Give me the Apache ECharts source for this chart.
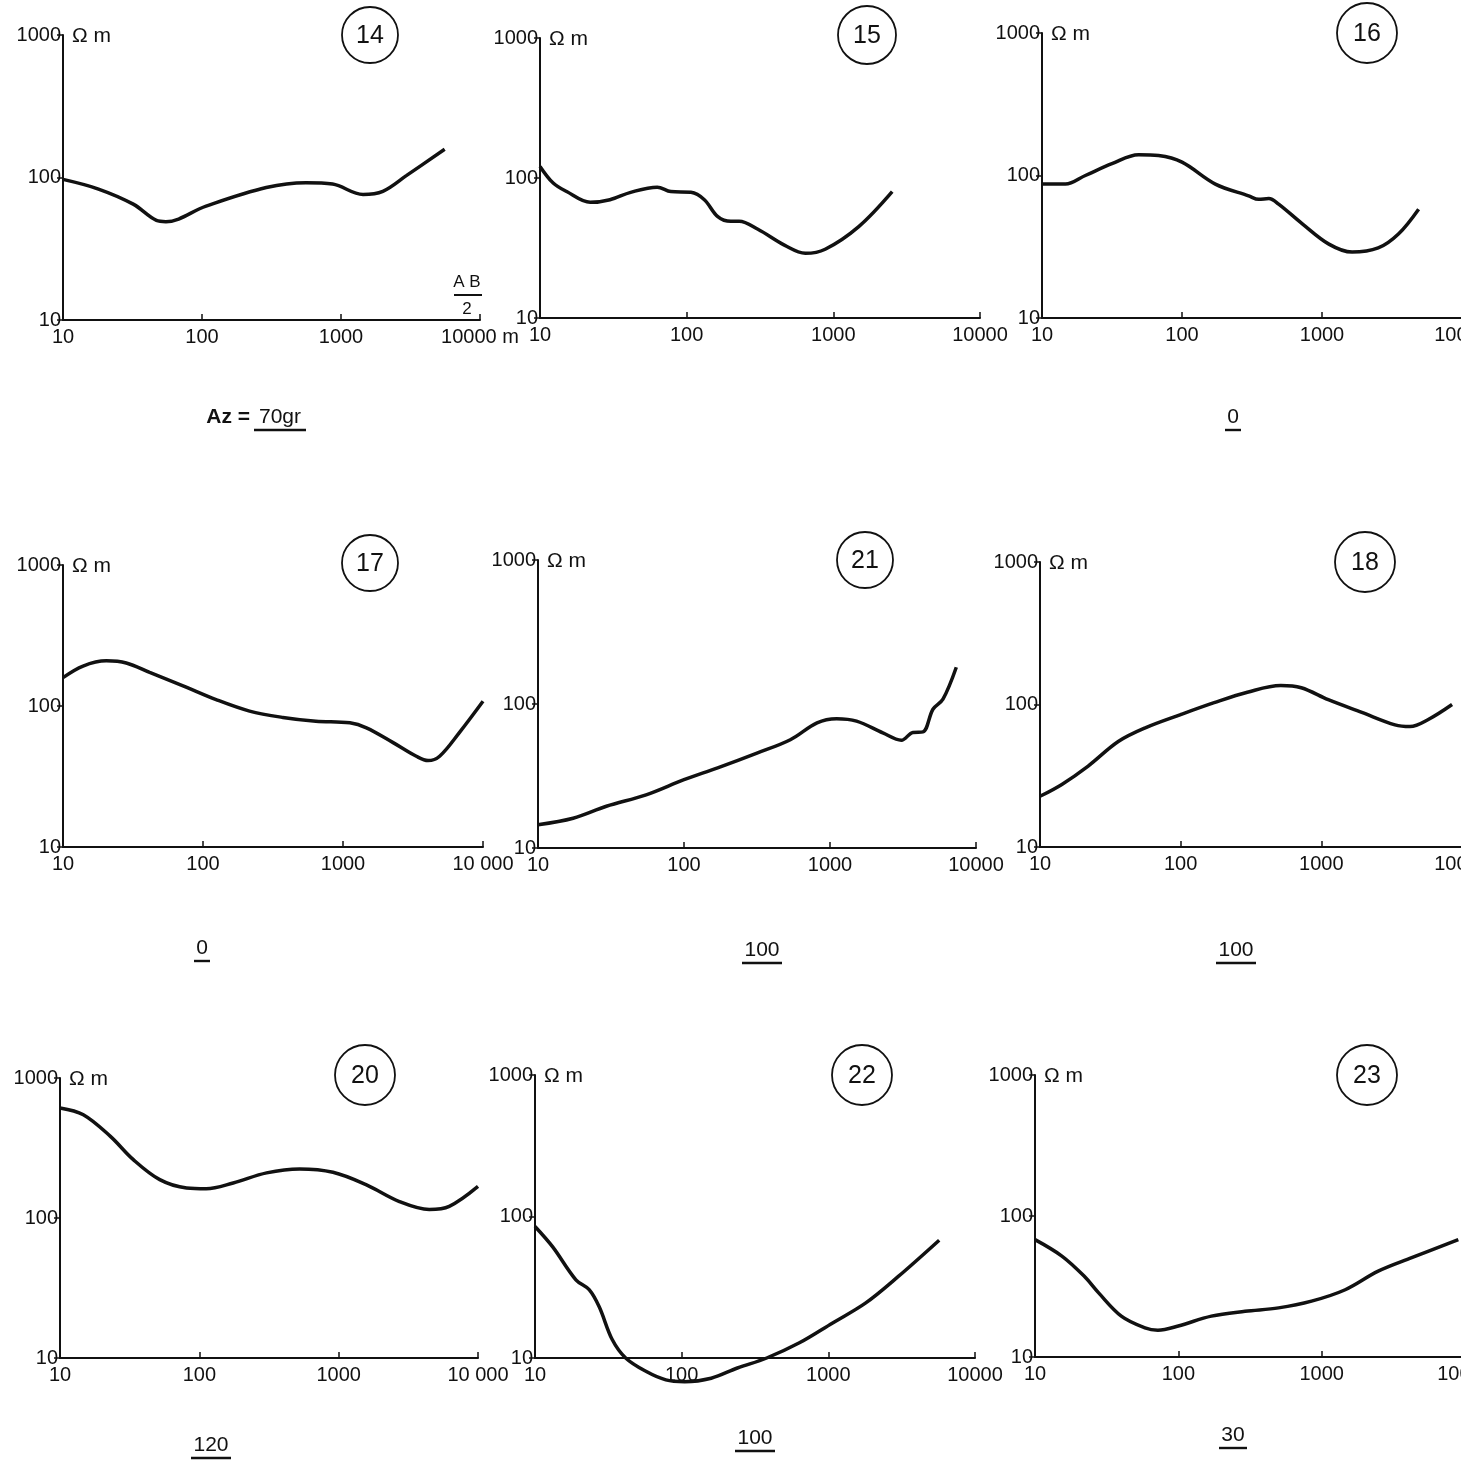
<!DOCTYPE html>
<html>
<head>
<meta charset="utf-8">
<script src="https://cdn.jsdelivr.net/npm/echarts@6/dist/echarts.min.js"></script>
<style>
html, body { margin: 0; background: #fff; }
#chart { width: 1461px; height: 1462px; }
</style>
</head>
<body>
<div id="chart"></div>
<script>
// sounding curves: AB/2 (m) vs apparent resistivity (ohm m)
var panelIds = ['14', '15', '16', '17', '21', '18', '20', '22', '23'];

var ab14 = [10, 18, 32, 47, 55, 107, 290, 560, 870, 1440, 2000, 2950, 5570];
var rho14 = [97, 83, 65, 50, 49, 63, 85, 92, 90, 76, 80, 103, 158];

var ab15 = [10, 12.3, 15.2, 22, 30, 41.5, 63, 78, 107, 132, 163, 200, 228, 306, 467, 645, 880, 1490, 2520];
var rho15 = [121, 92, 80, 67, 70, 79, 86, 80, 79, 70, 53, 49, 49, 43, 33, 29, 31, 45, 80];

var ab16 = [10, 14.7, 20.4, 31.6, 49, 68, 100, 173, 299, 353, 417, 490, 720, 1120, 1640, 2520, 3530, 4900];
var rho16 = [87, 87, 100, 121, 140, 138, 124, 87, 72, 68, 69, 63, 46, 33, 29, 31, 39, 58];

var ab17 = [10, 13.9, 20.4, 28.3, 41.6, 72, 124, 215, 372, 640, 1120, 1470, 2280, 3340, 4050, 4900, 6800, 10000];
var rho17 = [159, 192, 209, 202, 173, 139, 111, 92, 83, 78, 76, 70, 55, 44, 41, 44, 65, 108];

var ab21 = [10, 17.4, 29.4, 55, 100, 170, 316, 535, 815, 1110, 1520, 2300, 3080, 3700, 4330, 5070, 5940, 7330];
var rho21 = [14.5, 16.1, 19.5, 23.4, 29.8, 36, 45.6, 56.5, 74, 79, 76, 63, 56, 63.5, 64, 92, 108, 180];

var ab18 = [10, 14.3, 22, 36, 56, 100, 173, 298, 515, 720, 1120, 1940, 3340, 4270, 5760, 8500];
var rho18 = [22.7, 27.5, 37, 55, 68.6, 85, 103, 122, 136, 131, 108, 88, 72, 70, 78.5, 100];

var ab20 = [10, 14.7, 23, 33.6, 52, 81, 112, 175, 304, 525, 910, 1570, 2730, 4470, 6220, 10000];
var rho20 = [611, 547, 383, 261, 188, 164, 162, 178, 210, 224, 212, 173, 131, 115, 121, 168];

var ab22 = [10, 13.2, 19, 23.4, 27.4, 33.6, 41.5, 57, 78, 105, 159, 240, 380, 635, 1070, 1790, 3000, 5700];
var rho22 = [85, 61, 35.7, 30.4, 23, 13.5, 10, 8.05, 7.0, 6.8, 7.2, 8.5, 10, 12.8, 17.7, 24.4, 37.7, 68];

var ab23 = [10, 15.4, 22, 27.7, 40, 58.5, 72, 100, 170, 292, 500, 850, 1460, 2480, 4250, 8980];
var rho23 = [68, 52, 37.5, 28.6, 19.5, 16.1, 15.5, 16.6, 19.5, 21.1, 22.3, 24.9, 30, 40.6, 50.6, 68];

var abList = [ab14, ab15, ab16, ab17, ab21, ab18, ab20, ab22, ab23];
var rhoList = [rho14, rho15, rho16, rho17, rho21, rho18, rho20, rho22, rho23];

// last x tick label as written on each sheet
var lastXLabel = ['10000 m', '10000', '10000', '10 000', '10000', '10000', '10 000', '10000', '10000'];
// azimuth notes under each panel ('' = none)
var azNotes = ['70gr', '', '0', '0', '100', '100', '120', '100', '30'];

// layout: grid [left, top, width, height], circle [cx, cy, r], note [x, y]
var layout = [
    {g: [63, 35, 417, 285],   c: [370, 35, 28],    n: [280, 417]},
    {g: [540, 38, 440, 280],  c: [867, 35, 29],    n: null},
    {g: [1042, 33, 420, 285], c: [1367, 33, 30],   n: [1233, 417]},
    {g: [63, 565, 420, 282],  c: [370, 563, 28],   n: [202, 948]},
    {g: [538, 560, 438, 288], c: [865, 560, 28],   n: [762, 950]},
    {g: [1040, 562, 422, 285], c: [1365, 562, 30], n: [1236, 950]},
    {g: [60, 1078, 418, 280], c: [365, 1075, 30],  n: [211, 1445]},
    {g: [535, 1075, 440, 283], c: [862, 1075, 30], n: [755, 1438]},
    {g: [1035, 1075, 430, 282], c: [1367, 1075, 30], n: [1233, 1435]}
];

var FONT = 'Liberation Sans, Arial, sans-serif';
var INK = '#111';

var grids = [], xAxes = [], yAxes = [], series = [], graphics = [];

function txt(x, y, s, size, align, weight) {
    return {
        type: 'text', x: x, y: y, silent: true,
        style: {
            text: s, fill: INK, font: (weight || 'normal') + ' ' + size + 'px ' + FONT,
            align: align || 'center', textAlign: align || 'center',
            verticalAlign: 'middle', textVerticalAlign: 'middle'
        }
    };
}
function seg(x1, y1, x2, y2, w) {
    return {
        type: 'line', silent: true,
        shape: {x1: x1, y1: y1, x2: x2, y2: y2},
        style: {stroke: INK, lineWidth: w || 2}
    };
}

for (var i = 0; i < panelIds.length; i++) {
    var L = layout[i];
    grids.push({left: L.g[0], top: L.g[1], width: L.g[2], height: L.g[3], outerBoundsMode: 'none'});
    (function (last) {
        xAxes.push({
            type: 'log', logBase: 10, gridIndex: i, min: 10, max: 10000,
            axisLine: {show: true, lineStyle: {color: INK, width: 2}},
            axisTick: {show: true, inside: true, length: 6, lineStyle: {color: INK, width: 1.5}},
            minorTick: {show: false},
            splitLine: {show: false},
            axisLabel: {
                color: INK, fontSize: 20, fontFamily: FONT, margin: 7,
                formatter: function (v) { return v >= 9999 ? last : String(Math.round(v)); }
            }
        });
    })(lastXLabel[i]);
    yAxes.push({
        type: 'log', logBase: 10, gridIndex: i, min: 10, max: 1000,
        axisLine: {show: true, lineStyle: {color: INK, width: 2}},
        axisTick: {show: true, length: 6, lineStyle: {color: INK, width: 1.5}},
        minorTick: {show: false},
        splitLine: {show: false},
        axisLabel: {
            color: INK, fontSize: 20, fontFamily: FONT, margin: 2,
            formatter: function (v) { return String(Math.round(v)); }
        }
    });
    var pts = abList[i].map(function (a, k) { return [a, rhoList[i][k]]; });
    series.push({
        type: 'line', xAxisIndex: i, yAxisIndex: i, data: pts,
        showSymbol: false, smooth: 0.35, clip: false, silent: true,
        lineStyle: {color: INK, width: 3.5}
    });

    // unit, sheet number in circle, azimuth note
    graphics.push(txt(L.g[0] + 9, L.g[1] + 1, 'Ω m', 21, 'left'));
    graphics.push({
        type: 'circle', silent: true,
        shape: {cx: L.c[0], cy: L.c[1], r: L.c[2]},
        style: {fill: 'none', stroke: INK, lineWidth: 1.8}
    });
    graphics.push(txt(L.c[0], L.c[1] + 1, panelIds[i], 25));
    if (L.n) {
        var s = azNotes[i];
        var w = s.length * 12 + 4;
        graphics.push(txt(L.n[0], L.n[1], s, 21));
        graphics.push(seg(L.n[0] - w / 2, L.n[1] + 13, L.n[0] + w / 2, L.n[1] + 13, 2.4));
    }
}

// extra annotations on sheet 14
graphics.push(txt(250, 417, 'Az =', 21, 'right', 'bold'));
graphics.push(txt(467, 282, 'A B', 17));
graphics.push(seg(454, 295, 482, 295, 2));
graphics.push(txt(467, 309, '2', 17));

var myChart = echarts.init(document.getElementById('chart'));
myChart.setOption({
    animation: false,
    backgroundColor: '#fff',
    grid: grids,
    xAxis: xAxes,
    yAxis: yAxes,
    series: series,
    graphic: graphics
});
</script>
</body>
</html>
